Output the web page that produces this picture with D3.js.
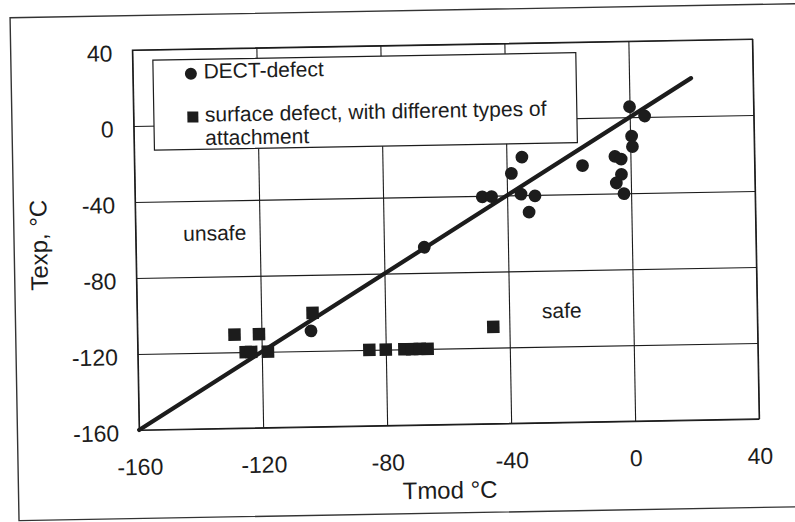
<!DOCTYPE html>
<html>
<head>
<meta charset="utf-8">
<script src="https://cdn.jsdelivr.net/npm/d3@7"></script>
<style>
  html, body { margin: 0; padding: 0; background: #fff; }
  svg { display: block; }
  text { font-family: "Liberation Sans", Arial, sans-serif; fill: #1c1c1c; }
</style>
</head>
<body>
<script>
// ---- data ----
const xTicks = [-160, -120, -80, -40, 0, 40];
const yTicks = [-160, -120, -80, -40, 0, 40];

// DECT-defect (circles): [Tmod, Texp]
const dectTmod = [-104, -67, -48, -45, -38.5, -35, -35.5, -31, -33, -15.5, -5, -3, -3, -4.7, -2.3, 0.5, 0.7, 0, 4.8];
const dectTexp = [-109.5, -66.5, -40.5, -40.5, -28.5, -20, -39.5, -40.5, -49, -25, -20.5, -22, -30, -34.5, -40.2, -10, -15.5, 5.5, 0.5];

// surface defect (squares): [Tmod, Texp]
const surfTmod = [-128.7, -120.8, -125.2, -123.4, -118, -103.4, -85.3, -80, -74, -71.5, -69, -66.5, -45.2];
const surfTexp = [-110.7, -110.7, -120, -120, -120, -100, -120, -120, -120, -120, -120, -120, -109];

// reference line Texp = Tmod
const lineTmod = [-160, 20];
const lineTexp = [-160, 20];

const legendLabels = ["DECT-defect", "surface defect, with different types of", "attachment"];
const regionLabels = ["unsafe", "safe"];
const regionTmod = [-134.5, -23];
const regionTexp = [-57, -101];

// ---- layout ----
const W = 795, H = 522;
const L = 135.7, R = 755.8, T = 44.5, B = 424.5;
const ink = "#1c1c1c";

const svg = d3.select("body").append("svg").attr("width", W).attr("height", H);
const g = svg.append("g").attr("transform", "rotate(-1.02, 445.75, 234.5)");

const x = d3.scaleLinear().domain([-160, 40]).range([L, R]);
const y = d3.scaleLinear().domain([-160, 40]).range([B, T]);

// outer frame
g.append("rect").attr("x", 14).attr("y", 10).attr("width", 786).attr("height", 503)
  .attr("fill", "none").attr("stroke", "#333").attr("stroke-width", 1.4);

// gridlines + tick labels via axes
const xAxis = g.append("g").attr("transform", `translate(0,${B})`)
  .call(d3.axisBottom(x).tickValues(xTicks).tickSize(-(B - T)).tickFormat(d => String(d)));
xAxis.select(".domain").remove();
xAxis.selectAll("line").attr("stroke", ink).attr("stroke-width", 1.1);
xAxis.selectAll("text").attr("y", 45).attr("dy", 0).attr("font-size", 23)
  .attr("fill", ink).style("font-family", '"Liberation Sans", Arial, sans-serif');

const yAxis = g.append("g").attr("transform", `translate(${L},0)`)
  .call(d3.axisLeft(y).tickValues(yTicks).tickSize(-(R - L)).tickFormat(d => String(d)));
yAxis.select(".domain").remove();
yAxis.selectAll("line").attr("stroke", ink).attr("stroke-width", 1.1);
yAxis.selectAll("text").attr("x", -20).attr("dy", 0).attr("y", 10.5).attr("font-size", 23)
  .attr("fill", ink).style("font-family", '"Liberation Sans", Arial, sans-serif');

// plot border
g.append("rect").attr("x", L).attr("y", T).attr("width", R - L).attr("height", B - T)
  .attr("fill", "none").attr("stroke", ink).attr("stroke-width", 1.2);

// legend box
const lg = g.append("g");
lg.append("rect").attr("x", 156).attr("y", 55).attr("width", 423).attr("height", 90)
  .attr("fill", "#fff").attr("stroke", ink).attr("stroke-width", 1.2);
lg.append("circle").attr("cx", 193.8).attr("cy", 69.2).attr("r", 6).attr("fill", ink);
lg.append("rect").attr("x", 189.5).attr("y", 107).attr("width", 11).attr("height", 11).attr("fill", ink);
lg.append("text").attr("x", 206.5).attr("y", 74.1).attr("font-size", 21).text(legendLabels[0]);
lg.append("text").attr("x", 207).attr("y", 117.5).attr("font-size", 21).text(legendLabels[1]);
lg.append("text").attr("x", 207).attr("y", 140.8).attr("font-size", 21).text(legendLabels[2]);

// reference line
const lineData = lineTmod.map((v, i) => [v, lineTexp[i]]);
g.append("path").datum(lineData)
  .attr("d", d3.line().x(d => x(d[0])).y(d => y(d[1])))
  .attr("stroke", ink).attr("stroke-width", 4.2).attr("fill", "none").attr("stroke-linecap", "round");

// markers
const dect = dectTmod.map((v, i) => [v, dectTexp[i]]);
const surf = surfTmod.map((v, i) => [v, surfTexp[i]]);
const sq = 12.5;
g.append("g").selectAll("rect").data(surf).join("rect")
  .attr("x", d => x(d[0]) - sq / 2).attr("y", d => y(d[1]) - sq / 2)
  .attr("width", sq).attr("height", sq).attr("fill", ink);
g.append("g").selectAll("circle").data(dect).join("circle")
  .attr("cx", d => x(d[0])).attr("cy", d => y(d[1])).attr("r", 6.4).attr("fill", ink);

// region labels
g.append("g").selectAll("text").data(regionLabels).join("text")
  .attr("x", (d, i) => x(regionTmod[i])).attr("y", (d, i) => y(regionTexp[i]) + 7.5)
  .attr("text-anchor", "middle").attr("font-size", 21).text(d => d);

// axis titles
g.append("text").attr("x", 445.5).attr("y", 498.5).attr("text-anchor", "middle")
  .attr("font-size", 24).text("Tmod °C");
g.append("text").attr("transform", "translate(47,238) rotate(-90)").attr("text-anchor", "middle")
  .attr("font-size", 24).text("Texp, °C");
</script>
</body>
</html>
